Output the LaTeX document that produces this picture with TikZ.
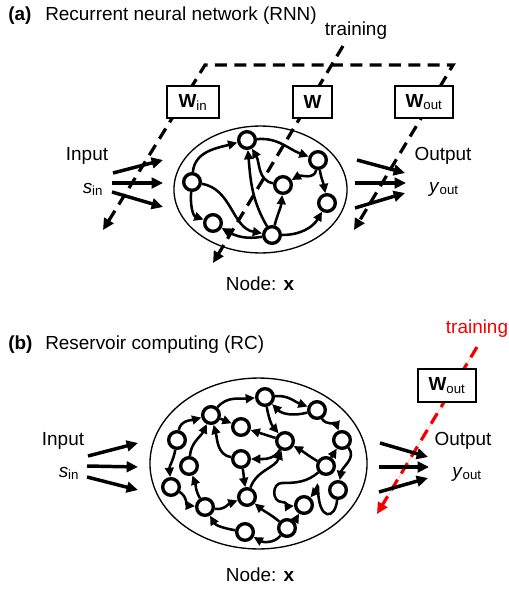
\documentclass[tikz,border=0pt]{standalone}
\usepackage{fontspec}
\setmainfont{Liberation Sans}
\usetikzlibrary{arrows.meta}
\definecolor{trainred}{RGB}{245,0,0}
\begin{document}
\begin{tikzpicture}[x=0.75pt,y=0.75pt,
  every node/.style={font=\fontsize{14.2}{16}\selectfont},
  nd/.style={circle,draw,line width=2.5pt,fill=white,minimum size=12.5pt,inner sep=0pt},
  ed/.style={line width=1.9pt,-{Triangle[length=7pt,width=6.5pt]}},
  big/.style={line width=2.6pt,-{Triangle[length=8.5pt,width=8pt]}},
  dsh/.style={line width=2.4pt,dash pattern=on 9pt off 5.5pt},
  tip/.style={-{Triangle[length=8.5pt,width=8pt]}},
  bothtips/.style={{Triangle[length=8.5pt,width=8pt]}-{Triangle[length=8.5pt,width=8pt]}},
  wbox/.style={draw,line width=1.5pt,fill=white,inner sep=0pt,minimum height=24pt},
  txt/.style={anchor=base,inner sep=0pt}
]
\useasboundingbox (0,0) rectangle (508,-589);

% ---------------- (a) recurrent neural network ----------------
\node[txt,anchor=base west] (ta) at (8,-21) {\bfseries (a)};
\node[txt,anchor=base west] (tatitle) at (45,-21) {Recurrent neural network (RNN)};
\node[txt] (traina) at (356,-35) {training};

% training paths
\coordinate (la) at (103,-230);
\coordinate (cl) at (205,-65);
\coordinate (cr) at (453,-65);
\coordinate (ra) at (354,-230);
\coordinate (mt) at (343,-46);
\coordinate (mb) at (213,-263);
\draw[dsh,bothtips] (la) -- (cl) -- (cr) -- (ra);
\draw[dsh,tip] (mt) -- (mb);

% weight boxes
\node[wbox,minimum width=39pt] (win) at (193,-102) {\textbf{W}\textsubscript{in}};
\node[wbox,minimum width=29pt] (w) at (312.5,-102) {\textbf{W}};
\node[wbox,minimum width=43.5pt] (wout) at (424,-102) {\textbf{W}\textsubscript{out}};

% reservoir boundary
\draw[line width=1pt] (260.5,-189.5) ellipse [x radius=64.9pt, y radius=47.6pt];

% nodes
\node[nd] (A) at (247,-140) {};
\node[nd] (B) at (318,-160) {};
\node[nd] (C) at (283,-185) {};
\node[nd] (D) at (192,-182) {};
\node[nd] (E) at (327,-203) {};
\node[nd] (F) at (213,-223) {};
\node[nd] (G) at (272,-235) {};

% recurrent connections
\draw[ed] (D) to[out=85,in=195] (A);
\draw[ed] (A) to[out=5,in=160] (B);
\draw[ed] (B) to[out=-100,in=30] (C);
\draw[ed] (C) to[out=170,in=-60] (A);
\draw[ed] (B) to[out=-80,in=100] (E);
\draw[ed] (D) to[out=-95,in=160] (F);
\draw[ed] (D) to[out=-10,in=170] (G);
\draw[ed] (G) to[out=120,in=-85] (A);
\draw[ed] (G) to[out=75,in=-95] (C);
\draw[ed] (G) to[out=0,in=-120] (E);
\draw[ed] (G) to[out=190,in=-30] (F);

% input and output
\node[txt] (inpa) at (87,-160) {Input};
\node[txt] (sina) at (93,-193) {\textit{s}\textsubscript{in}};
\node[txt] (outa) at (443,-160) {Output};
\node[txt] (youta) at (444,-192) {\textit{y}\textsubscript{out}};
\coordinate (ia1) at (113,-173); \coordinate (ja1) at (163,-160);
\coordinate (ia2) at (112,-183); \coordinate (ja2) at (163,-183);
\coordinate (ia3) at (112,-192); \coordinate (ja3) at (163,-207);
\draw[big] (ia1) -- (ja1);
\draw[big] (ia2) -- (ja2);
\draw[big] (ia3) -- (ja3);
\coordinate (oa1) at (357,-160); \coordinate (pa1) at (405,-173);
\coordinate (oa2) at (355,-183); \coordinate (pa2) at (406,-183);
\coordinate (oa3) at (355,-208); \coordinate (pa3) at (405,-193);
\draw[big] (oa1) -- (pa1);
\draw[big] (oa2) -- (pa2);
\draw[big] (oa3) -- (pa3);

\node[txt] (nodea) at (260,-290) {Node: \textbf{x}};

% ---------------- (b) reservoir computing ----------------
\node[txt,anchor=base west] (tb) at (8,-349) {\bfseries (b)};
\node[txt,anchor=base west] (tbtitle) at (45,-349) {Reservoir computing (RC)};
\node[txt,text=trainred] (trainb) at (477,-333) {training};

\coordinate (rt) at (477,-347);
\coordinate (rb) at (377,-514);
\draw[dsh,tip,draw=trainred,fill=trainred] (rt) -- (rb);
\node[wbox,minimum width=43.5pt,minimum height=24.5pt] (woutb) at (447,-385.5) {\textbf{W}\textsubscript{out}};

\draw[line width=1pt] (258.5,-463.5) ellipse [x radius=81.4pt, y radius=64.1pt];

\node[nd] (n1) at (265,-397) {};
\node[nd] (n2) at (317,-410) {};
\node[nd] (n3) at (211,-415) {};
\node[nd] (n4) at (241,-427) {};
\node[nd] (n5) at (177,-440) {};
\node[nd] (n6) at (342,-440) {};
\node[nd] (n7) at (285,-441) {};
\node[nd] (n8) at (189,-466) {};
\node[nd] (n9) at (241,-459) {};
\node[nd] (n10) at (326,-466) {};
\node[nd] (n11) at (171,-487) {};
\node[nd] (n12) at (338,-490) {};
\node[nd] (n13) at (247,-497) {};
\node[nd] (n14) at (205,-507) {};
\node[nd] (n15) at (304,-505) {};
\node[nd] (n16) at (245,-532) {};
\node[nd] (n17) at (287,-528) {};

\coordinate (w1) at (282,-483);
\coordinate (w2) at (282,-502);
\coordinate (p1) at (318,-487);

\draw[ed] (n5) to[out=80,in=195] (n3);
\draw[ed] (n3) to[out=50,in=185] (n1);
\draw[ed] (n1) to[out=5,in=160] (n2);
\draw[ed] (n2) to[out=195,in=-45] (n1);
\draw[ed] (n1) to[out=-80,in=130] (n7);
\draw[ed] (n2) to[out=-60,in=110] (n6);
\draw[ed] (n3) -- (n4);
\draw[ed] (n7) -- (n4);
\draw[ed] (n7) to[out=-120,in=0] (n9);
\draw[ed] (n9) to[out=170,in=-75] (n3);
\draw[ed] (n8) to[out=85,in=-115] (n3);
\draw[ed] (n5) to[out=-100,in=95] (n11);
\draw[ed] (n11) to[out=-30,in=175] (n14);
\draw[ed] (n14) to[out=120,in=-70] (n8);
\draw[ed] (n14) to[out=-10,in=200] (n13);
\draw[ed] (n9) to[out=-80,in=100] (n13);
\draw[ed] (n13) to[out=70,in=-110] (n7);
\draw[ed] (n10) to[out=150,in=-30] (n7);
\draw[ed] (n10) -- (n6);
\draw[ed] (n6) to[out=-50,in=80] (n12);
\draw[ed] (n10) to[out=-140,in=0] (w1) to[out=180,in=180,looseness=1.4] (w2) to[out=0,in=185] (n15);
\draw[ed] (n12) .. controls +(-95:30) and +(-90:35) .. (p1) to[out=90,in=50] (n15);
\draw[ed] (n17) to[out=40,in=-120] (n15);
\draw[ed] (n17) to[out=-130,in=-30] (n16);
\draw[ed] (n16) to[out=170,in=-60] (n14);
\draw[ed] (n17) to[out=140,in=-40] (n13);

\node[txt] (inpb) at (63,-445) {Input};
\node[txt] (sinb) at (69,-477) {\textit{s}\textsubscript{in}};
\node[txt] (outb) at (463,-445) {Output};
\node[txt] (youtb) at (467,-477) {\textit{y}\textsubscript{out}};
\coordinate (ib1) at (88,-456); \coordinate (jb1) at (138,-443);
\coordinate (ib2) at (87,-466); \coordinate (jb2) at (138,-467);
\coordinate (ib3) at (87,-477); \coordinate (jb3) at (138,-490);
\draw[big] (ib1) -- (jb1);
\draw[big] (ib2) -- (jb2);
\draw[big] (ib3) -- (jb3);
\coordinate (ob1) at (380,-443); \coordinate (pb1) at (428,-457);
\coordinate (ob2) at (379,-467); \coordinate (pb2) at (429,-467);
\coordinate (ob3) at (379,-492); \coordinate (pb3) at (428,-478);
\draw[big] (ob1) -- (pb1);
\draw[big] (ob2) -- (pb2);
\draw[big] (ob3) -- (pb3);

\node[txt] (nodeb) at (260,-581) {Node: \textbf{x}};
\end{tikzpicture}
\end{document}
